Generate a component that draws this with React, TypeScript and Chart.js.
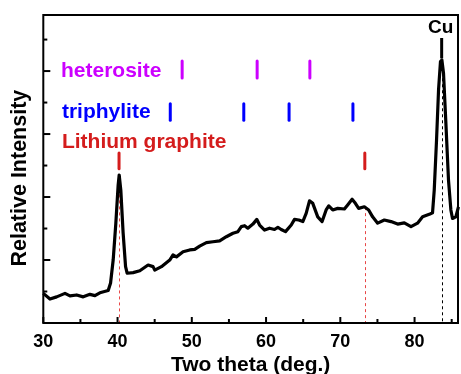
import React, { useEffect, useRef } from "react";
import { Chart, registerables } from "chart.js";

Chart.register(...registerables);

// XRD pattern (2θ in degrees, relative intensity in a.u.)
const TWO_THETA = [
  30.0, 30.9, 31.8, 32.92, 33.59, 34.49, 35.38, 36.28, 36.95, 37.62, 38.74, 39.06, 39.41, 39.77, 40.08, 40.22,
  40.44, 40.75, 41.08, 41.29, 42.1, 43.0, 44.11, 44.78, 45.01, 45.91, 47.03, 47.47, 47.93, 48.82, 49.72, 50.39,
  51.06, 51.96, 52.85, 53.75, 54.65, 55.54, 56.21, 56.67, 57.11, 57.55, 58.23, 58.76, 59.13, 59.8, 60.47, 61.14,
  61.59, 62.04, 62.62, 63.39, 63.83, 64.41, 64.95, 65.4, 65.85, 66.29, 66.96, 67.55, 68.09, 68.44, 68.98, 69.65,
  70.55, 70.99, 71.59, 72.03, 72.47, 73.24, 73.82, 74.35, 75.03, 75.93, 76.83, 77.72, 78.62, 79.52, 80.4, 81.08,
  81.98, 82.42, 82.65, 82.96, 83.23, 83.49, 83.68, 83.9, 84.22, 84.57, 84.89, 85.11, 85.56, 85.91,
];
const INTENSITY = [
  0.94, 0.76, 0.83, 0.94, 0.86, 0.89, 0.83, 0.91, 0.87, 0.96, 1.03, 1.27, 2.0, 3.17, 4.38, 4.7,
  4.22, 2.86, 1.79, 1.58, 1.6, 1.66, 1.84, 1.79, 1.68, 1.79, 2.0, 2.16, 2.1, 2.26, 2.32, 2.34,
  2.44, 2.55, 2.58, 2.61, 2.74, 2.85, 2.9, 3.06, 3.09, 3.01, 3.14, 3.29, 3.11, 2.95, 3.01, 2.97,
  3.04, 2.97, 2.9, 3.11, 3.29, 3.27, 3.22, 3.48, 3.88, 3.8, 3.37, 3.22, 3.59, 3.72, 3.59, 3.64,
  3.62, 3.75, 3.93, 3.8, 3.64, 3.69, 3.59, 3.37, 3.17, 3.27, 3.22, 3.14, 3.18, 3.06, 3.17, 3.37,
  3.45, 3.5, 4.22, 5.81, 7.4, 8.3, 8.35, 7.93, 6.34, 4.54, 3.59, 3.32, 3.37, 3.69,
];

// Reference peak positions (2θ)
const HETEROSITE_PEAKS = [48.7, 58.8, 65.9];
const TRIPHYLITE_PEAKS = [47.1, 57.0, 63.1, 71.7];
const LI_GRAPHITE_PEAKS = [40.2, 73.3];
const CU_PEAKS = [83.65];

const PHASE_NAMES = ["heterosite", "triphylite", "Lithium graphite"];
const X_TICKS = [30, 40, 50, 60, 70, 80];
const X_MINOR_TICKS = [35, 45, 55, 65, 75, 85];
const Y_MAJOR_TICKS = [2, 4, 6, 8];
const Y_MINOR_TICKS = [1, 3, 5, 7, 9];

const MAGENTA = "#cc00ff";
const BLUE = "#0000ff";
const RED = "#d41c1c";
const RED_DASH = "#e84848";
const FONT = "Arial, 'Liberation Sans', sans-serif";

function interp(x: number): number {
  for (let i = 0; i < TWO_THETA.length - 1; i++) {
    if (x >= TWO_THETA[i] && x <= TWO_THETA[i + 1]) {
      const t = (x - TWO_THETA[i]) / (TWO_THETA[i + 1] - TWO_THETA[i]);
      return INTENSITY[i] + t * (INTENSITY[i + 1] - INTENSITY[i]);
    }
  }
  return 0;
}

const decorPlugin = {
  id: "decor",
  beforeDatasetsDraw(chart: any) {
    const { ctx } = chart;
    const xs = chart.scales.x;
    const ys = chart.scales.y;
    ctx.save();
    ctx.lineWidth = 1;
    ctx.setLineDash([3, 3]);
    const drops: [number, string][] = [
      ...LI_GRAPHITE_PEAKS.map((p) => [p, RED_DASH] as [number, string]),
      ...CU_PEAKS.map((p) => [p, "#000000"] as [number, string]),
    ];
    drops.forEach(([p, c]) => {
      const px = Math.round(xs.getPixelForValue(p)) + 0.5;
      ctx.strokeStyle = c;
      ctx.beginPath();
      ctx.moveTo(px, ys.getPixelForValue(interp(p)));
      ctx.lineTo(px, ys.getPixelForValue(0));
      ctx.stroke();
    });
    ctx.restore();
  },
  afterDatasetsDraw(chart: any) {
    const { ctx, chartArea: a } = chart;
    const xs = chart.scales.x;
    const ys = chart.scales.y;
    ctx.save();

    // peak markers
    const bars = (peaks: number[], y0: number, y1: number, color: string) => {
      ctx.strokeStyle = color;
      ctx.lineWidth = 3;
      peaks.forEach((p) => {
        const px = xs.getPixelForValue(p);
        ctx.beginPath();
        ctx.moveTo(px, ys.getPixelForValue(y0));
        ctx.lineTo(px, ys.getPixelForValue(y1));
        ctx.stroke();
      });
    };
    ctx.lineCap = "round";
    bars(HETEROSITE_PEAKS, 7.78, 8.32, MAGENTA);
    bars(TRIPHYLITE_PEAKS, 6.44, 6.96, BLUE);
    bars(LI_GRAPHITE_PEAKS, 4.9, 5.4, RED);
    ctx.lineCap = "butt";
    bars(CU_PEAKS, 8.4, 9.05, "#000000");

    // labels
    ctx.textBaseline = "middle";
    ctx.textAlign = "left";
    ctx.font = `bold 21px ${FONT}`;
    const labels: [string, number, number, string][] = [
      [PHASE_NAMES[0], 32.38, 8.0, MAGENTA],
      [PHASE_NAMES[1], 32.51, 6.7, BLUE],
      [PHASE_NAMES[2], 32.51, 5.75, RED],
    ];
    labels.forEach(([t, x, y, c]) => {
      ctx.fillStyle = c;
      ctx.fillText(t, xs.getPixelForValue(x), ys.getPixelForValue(y));
    });
    ctx.textAlign = "center";
    ctx.fillStyle = "#000";
    ctx.font = `bold 19px ${FONT}`;
    ctx.fillText("Cu", xs.getPixelForValue(83.52), ys.getPixelForValue(9.37));

    // y axis title
    ctx.save();
    ctx.translate(20, ys.getPixelForValue(4.6));
    ctx.rotate(-Math.PI / 2);
    ctx.font = `bold 21.5px ${FONT}`;
    ctx.fillText("Relative Intensity", 0, 0);
    ctx.restore();

    // frame
    ctx.strokeStyle = "#000";
    ctx.lineWidth = 2;
    ctx.strokeRect(a.left, a.top, a.right - a.left, a.bottom - a.top);

    // inward ticks
    const tx = (vals: number[], len: number) =>
      vals.forEach((v) => {
        const px = xs.getPixelForValue(v);
        ctx.beginPath();
        ctx.moveTo(px, a.bottom);
        ctx.lineTo(px, a.bottom - len);
        ctx.stroke();
      });
    const ty = (vals: number[], len: number) =>
      vals.forEach((v) => {
        const py = ys.getPixelForValue(v);
        ctx.beginPath();
        ctx.moveTo(a.left, py);
        ctx.lineTo(a.left + len, py);
        ctx.stroke();
      });
    tx(X_TICKS, 6);
    tx(X_MINOR_TICKS, 4);
    ty(Y_MAJOR_TICKS, 7);
    ty(Y_MINOR_TICKS, 4);
    ctx.restore();
  },
};

export default function App() {
  const ref = useRef<HTMLCanvasElement>(null);
  useEffect(() => {
    document.body.style.margin = "0";
    const chart = new Chart(ref.current!, {
      type: "line",
      data: {
        datasets: [
          {
            data: TWO_THETA.map((x, i) => ({ x, y: INTENSITY[i] })),
            borderColor: "#000",
            borderWidth: 3.2,
            pointRadius: 0,
            tension: 0,
            borderJoinStyle: "round",
            clip: 2,
          },
        ],
      },
      options: {
        responsive: false,
        animation: false,
        devicePixelRatio: 1,
        layout: { padding: { top: 15, right: 3, left: 0, bottom: 0 } },
        plugins: { legend: { display: false }, tooltip: { enabled: false } },
        scales: {
          x: {
            type: "linear",
            min: 30,
            max: 85.85,
            grid: { display: false, drawTicks: false },
            border: { display: false },
            afterBuildTicks: (s: any) => {
              s.ticks = X_TICKS.map((v) => ({ value: v }));
            },
            afterFit: (s: any) => {
              s.height = 51;
            },
            ticks: {
              color: "#000",
              padding: 8,
              maxRotation: 0,
              font: { family: FONT, size: 18, weight: "bold" },
            },
            title: {
              display: true,
              text: "Two theta (deg.)",
              color: "#000",
              padding: { top: 0, bottom: -4 },
              font: { family: FONT, size: 21, weight: "bold" },
            },
          },
          y: {
            type: "linear",
            min: 0,
            max: 9.78,
            grid: { display: false, drawTicks: false },
            border: { display: false },
            ticks: { display: false },
            afterFit: (s: any) => {
              s.width = 43.3;
            },
            title: { display: false, text: "Relative Intensity" },
          },
        },
      },
      plugins: [decorPlugin],
    } as any);
    return () => chart.destroy();
  }, []);
  return (
    <div style={{ position: "absolute", left: 0, top: 0, width: 461, height: 374 }}>
      <canvas ref={ref} width={461} height={374} />
    </div>
  );
}
